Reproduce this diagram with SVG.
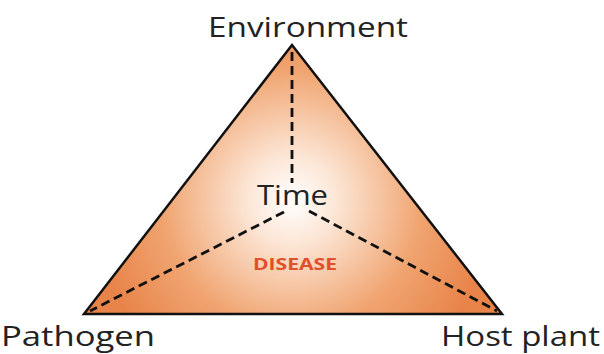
<svg xmlns="http://www.w3.org/2000/svg" width="604" height="354" viewBox="0 0 604 354">
<style>
.lbl{font-family:"Open Sans","Liberation Sans",sans-serif;font-size:28px;fill:#222;}
.dash{stroke:#111;stroke-width:2.8;stroke-dasharray:9,5;fill:none;}
</style>
<defs>
<radialGradient id="g" cx="292" cy="200" r="200" gradientUnits="userSpaceOnUse">
<stop offset="0" stop-color="#ffffff"/>
<stop offset="0.22" stop-color="#fce6d6"/>
<stop offset="0.65" stop-color="#f0a470"/>
<stop offset="1" stop-color="#e8844a"/>
</radialGradient>
</defs>
<g id="triangle">
<polygon points="292,45 84,314 502,314" fill="url(#g)" stroke="#111" stroke-width="2.5" stroke-linejoin="miter"/>
</g>
<g id="connectors">
<line class="dash" x1="292" y1="52" x2="292" y2="183"/>
<line class="dash" x1="284" y1="212" x2="90" y2="311"/>
<line class="dash" x1="309" y1="211" x2="497" y2="311"/>
</g>
<g id="environment"><text class="lbl" x="208" y="37" textLength="200" lengthAdjust="spacingAndGlyphs">Environment</text></g>
<g id="time"><text class="lbl" x="257" y="205" textLength="71" lengthAdjust="spacingAndGlyphs">Time</text></g>
<g id="disease"><text x="253" y="270" textLength="84" lengthAdjust="spacingAndGlyphs" font-family="'Open Sans','Liberation Sans',sans-serif" font-weight="bold" font-size="16" fill="#e0502a">DISEASE</text></g>
<g id="pathogen"><text class="lbl" x="1" y="346" textLength="154" lengthAdjust="spacingAndGlyphs">Pathogen</text></g>
<g id="host"><text class="lbl" x="441" y="346" textLength="159" lengthAdjust="spacingAndGlyphs">Host plant</text></g>
</svg>
